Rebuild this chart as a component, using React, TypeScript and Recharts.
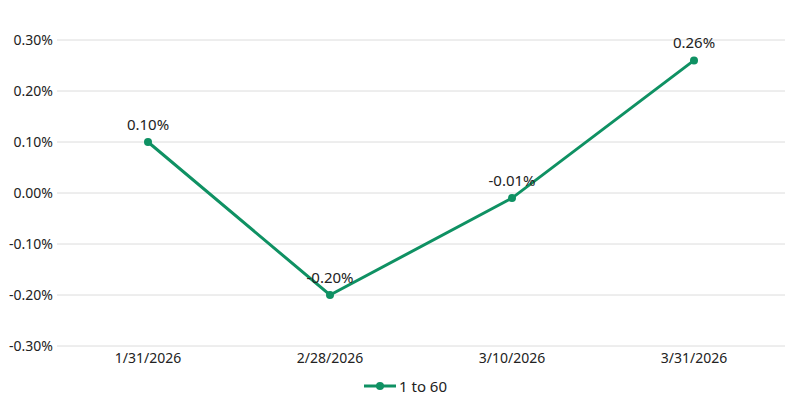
import React from "react";
import {
  LineChart,
  Line,
  XAxis,
  YAxis,
  CartesianGrid,
  Legend,
  LabelList,
} from "recharts";

const dates: string[] = ["1/31/2026", "2/28/2026", "3/10/2026", "3/31/2026"];
const returns: number[] = [0.1, -0.2, -0.01, 0.26];
const yTicks: number[] = [-0.3, -0.2, -0.1, 0, 0.1, 0.2, 0.3];

const GREEN = "#0f9163";
const FONT = "'Noto Sans', sans-serif";

const data = dates.map((d, i) => ({ date: d, value: returns[i] }));

const pct = (v: number) => `${Number(v).toFixed(2)}%`;

const renderLegend = (props: any) => {
  const { payload } = props;
  return (
    <div style={{ display: "flex", justifyContent: "center", alignItems: "center", paddingLeft: 26 }}>
      {payload.map((entry: any) => (
        <div key={entry.value} style={{ display: "flex", alignItems: "center" }}>
          <svg width={32} height={12} style={{ marginRight: 3 }}>
            <line x1={0} y1={6} x2={32} y2={6} stroke={GREEN} strokeWidth={3} />
            <circle cx={16} cy={6} r={4} fill={GREEN} />
          </svg>
          <span style={{ fontFamily: FONT, fontSize: 15, color: "#222" }}>{entry.value}</span>
        </div>
      ))}
    </div>
  );
};

export default function App() {
  return (
    <div style={{ position: "absolute", left: 0, top: 0, background: "#fff" }}>
      <LineChart
        width={801}
        height={417}
        data={data}
        margin={{ top: 40, right: 16, left: 0, bottom: 8 }}
      >
        <CartesianGrid vertical={false} stroke="#dcdcdc" />
        <XAxis
          dataKey="date"
          axisLine={false}
          tickLine={false}
          height={30}
          padding={{ left: 91, right: 91 }}
          tick={{ fill: "#222", fontSize: 14, fontFamily: FONT }}
          tickMargin={1}
        />
        <YAxis
          width={57}
          domain={[-0.3, 0.3]}
          ticks={yTicks}
          tickFormatter={pct}
          axisLine={false}
          tickLine={false}
          tickSize={4}
          tickMargin={0}
          tick={{ fill: "#222", fontSize: 14, fontFamily: FONT }}
        />
        <Legend height={33} content={renderLegend} />
        <Line
          type="linear"
          dataKey="value"
          name="1 to 60"
          stroke={GREEN}
          strokeWidth={3}
          dot={{ r: 4, fill: GREEN, stroke: GREEN, strokeWidth: 0 }}
          isAnimationActive={false}
        >
          <LabelList
            dataKey="value"
            position="top"
            offset={12}
            formatter={(v: any) => pct(v)}
            style={{ fill: "#222", fontSize: 15, fontFamily: FONT }}
          />
        </Line>
      </LineChart>
    </div>
  );
}
